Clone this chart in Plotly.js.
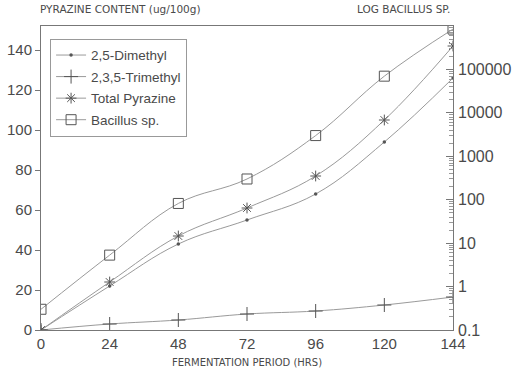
<!DOCTYPE html>
<html><head><meta charset="utf-8">
<script src="https://cdn.plot.ly/plotly-3.0.1.min.js"></script>
<style>html,body{margin:0;padding:0;background:#fff}#chart{width:513px;height:368px}</style>
</head><body><div id="chart"></div>
<script>
const hours = [0, 24, 48, 72, 96, 120, 144];
const dimethyl = [0, 22, 43, 55, 68, 94, 126];
const trimethyl = [0, 3, 5, 8, 9.5, 12.5, 16.5];
const totalPyrazine = [0, 24, 47, 61, 77, 105, 142];
const bacillus = [0.3, 5.3, 82, 300, 3000, 70000, 850000];
const xTicks = [0, 24, 48, 72, 96, 120, 144];
const yTicks = [0, 20, 40, 60, 80, 100, 120, 140];
const y2TickVals = [0.1, 1, 10, 100, 1000, 10000, 100000];
const y2TickText = ['0.1', '1', '10', '100', '1000', '10000', '100000'];

const lineCol = '#9a9a9a';
const mkCol = '#555';
const txtCol = '#4a4a4a';

const traces = [
  {x: hours, y: dimethyl, name: '2,5-Dimethyl', mode: 'lines+markers', legendgroup: 'a',
   line: {color: lineCol, width: 1, shape: 'spline', smoothing: 1.1},
   marker: {symbol: 'circle', size: 3.5, color: mkCol}},
  {x: hours, y: trimethyl, name: '2,3,5-Trimethyl', mode: 'lines+markers', legendgroup: 'b',
   line: {color: lineCol, width: 1, shape: 'spline', smoothing: 1.1},
   marker: {symbol: 'cross-thin-open', size: 10, color: mkCol, line: {color: mkCol, width: 1}}},
  {x: hours, y: totalPyrazine, name: 'Total Pyrazine', mode: 'lines+markers', legendgroup: 'c',
   line: {color: lineCol, width: 1, shape: 'spline', smoothing: 1.1},
   marker: {symbol: 'asterisk-open', size: 9, color: mkCol, line: {color: mkCol, width: 1}}},
  {x: hours, y: bacillus, name: 'Bacillus sp.', yaxis: 'y2', mode: 'lines+markers', legendgroup: 'd',
   line: {color: lineCol, width: 1, shape: 'spline', smoothing: 1.1},
   marker: {symbol: 'square-open', size: 10, color: mkCol, line: {color: mkCol, width: 1}}}
];

const layout = {
  width: 513, height: 368,
  margin: {l: 41, r: 60, t: 26, b: 38},
  paper_bgcolor: '#fff', plot_bgcolor: '#fff',
  font: {family: 'Liberation Sans, Arial, sans-serif', color: txtCol},
  showlegend: true,
  legend: {x: 0.022, y: 0.958, xanchor: 'left', yanchor: 'top',
    bordercolor: '#999', borderwidth: 1, bgcolor: '#fff', entrywidth: 150,
    font: {size: 13.5, color: txtCol}, tracegroupgap: 1},
  xaxis: {range: [0, 144], tickvals: xTicks, ticks: '', showgrid: false, zeroline: false,
    showline: true, linecolor: '#777', linewidth: 1, mirror: true,
    tickfont: {size: 15, color: txtCol}},
  yaxis: {range: [0, 152], tickvals: yTicks, ticks: 'outside', ticklen: 5, tickcolor: '#777',
    showgrid: false, zeroline: false, showline: true, linecolor: '#777', linewidth: 1, mirror: true,
    tickfont: {size: 15, color: txtCol}},
  yaxis2: {type: 'log', overlaying: 'y', side: 'right', range: [-1, 6],
    tickvals: y2TickVals, ticktext: y2TickText, ticks: 'inside', ticklen: 7, tickcolor: '#777',
    showgrid: false, zeroline: false, showline: false, ticklabelstandoff: 4,
    minor: {dtick: 'D1', ticks: 'inside', ticklen: 4, tickcolor: '#999', showgrid: false},
    tickfont: {size: 16, color: txtCol}},
  annotations: [
    {text: 'PYRAZINE CONTENT (ug/100g)', xref: 'paper', yref: 'paper', x: -0.008, y: 1.03,
     xanchor: 'left', yanchor: 'bottom', showarrow: false,
     font: {family: 'DejaVu Sans', size: 10.5, color: txtCol}},
    {text: 'LOG BACILLUS SP.', xref: 'paper', yref: 'paper', x: 0.997, y: 1.03,
     xanchor: 'right', yanchor: 'bottom', showarrow: false,
     font: {family: 'DejaVu Sans', size: 10.5, color: txtCol}},
    {text: 'FERMENTATION PERIOD (HRS)', xref: 'paper', yref: 'paper', x: 0.5, y: -0.108,
     xanchor: 'center', yanchor: 'middle', showarrow: false, borderpad: 0,
     font: {family: 'DejaVu Sans', size: 10, color: txtCol}}
  ]
};

Plotly.newPlot('chart', traces, layout, {displayModeBar: false, staticPlot: true});
</script>
</body></html>
